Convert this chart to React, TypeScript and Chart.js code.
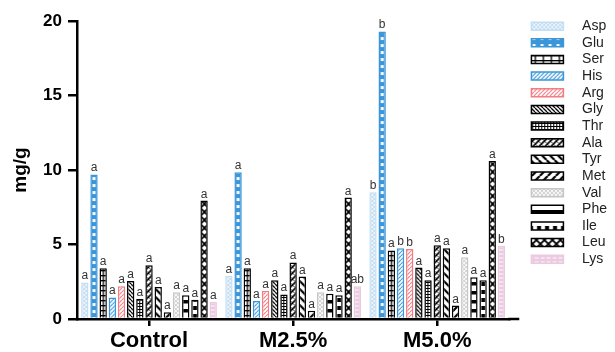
import React, { useEffect, useRef } from "react";
import { Chart, registerables } from "chart.js";

Chart.register(...registerables);

const CATEGORIES = ["Control", "M2.5%", "M5.0%"];
const AMINO_ACIDS = ["Asp", "Glu", "Ser", "His", "Arg", "Gly", "Thr", "Ala", "Tyr", "Met", "Val", "Phe", "Ile", "Leu", "Lys"];

const CONTROL_VALUES = [2.45, 9.7, 3.4, 1.45, 2.2, 2.55, 1.35, 3.6, 2.15, 0.45, 1.8, 1.6, 1.3, 7.95, 1.15];
const M25_VALUES = [2.9, 9.85, 3.4, 1.2, 1.9, 2.6, 1.65, 3.8, 2.85, 0.55, 1.8, 1.7, 1.6, 8.15, 2.2];
const M50_VALUES = [8.5, 19.3, 4.6, 4.75, 4.7, 3.45, 2.6, 4.95, 4.75, 0.9, 4.15, 2.8, 2.6, 10.6, 4.9];

const CONTROL_LETTERS = ["a", "a", "a", "a", "a", "a", "a", "a", "a", "a", "a", "a", "a", "a", "a"];
const M25_LETTERS = ["a", "a", "a", "a", "a", "a", "a", "a", "a", "a", "a", "a", "a", "a", "ab"];
const M50_LETTERS = ["b", "b", "a", "b", "b", "a", "a", "a", "a", "a", "a", "a", "a", "a", "b"];

const Y_MIN = 0;
const Y_MAX = 20;
const Y_STEP = 5;

const FONT = "Arial, 'Liberation Sans', Helvetica, sans-serif";
const CAT_PCT = 0.955;
const BAR_PCT = 0.8;

type Painter = (g: CanvasRenderingContext2D, w: number, h: number) => void;

function makeTile(w: number, h: number, bg: string, draw: Painter) {
  const c = document.createElement("canvas");
  c.width = w;
  c.height = h;
  const g = c.getContext("2d")!;
  g.fillStyle = bg;
  g.fillRect(0, 0, w, h);
  draw(g, w, h);
  return c;
}

function slash(g: CanvasRenderingContext2D, s: number, color: string, lw: number) {
  g.strokeStyle = color;
  g.lineWidth = lw;
  g.beginPath();
  for (const x0 of [-s, 0, s]) {
    g.moveTo(x0, s);
    g.lineTo(x0 + s, 0);
  }
  g.stroke();
}

function backslash(g: CanvasRenderingContext2D, s: number, color: string, lw: number) {
  g.strokeStyle = color;
  g.lineWidth = lw;
  g.beginPath();
  for (const x0 of [-s, 0, s]) {
    g.moveTo(x0, 0);
    g.lineTo(x0 + s, s);
  }
  g.stroke();
}

const BLUE = "#3a96d8";
const LIGHT_BLUE = "#c4def3";
const SALMON = "#f27d84";
const PINK = "#ebc9e0";
const GREY = "#c6c6c6";

function buildTiles() {
  const asp = makeTile(4, 4, LIGHT_BLUE, (g) => {
    g.fillStyle = "rgba(255,255,255,0.65)";
    g.fillRect(0, 0, 2, 2);
    g.fillRect(2, 2, 2, 2);
  });
  const glu = makeTile(8, 7, BLUE, (g) => {
    g.fillStyle = "#fff";
    g.fillRect(2.2, 2, 3, 3);
  });
  const ser = makeTile(8, 5, "#fff", (g) => {
    g.fillStyle = "#000";
    g.fillRect(0, 0, 8, 1.3);
    g.fillRect(3.1, 0, 1.3, 5);
  });
  const his = makeTile(4, 4, "#fff", (g, w) => slash(g, w, BLUE, 1.2));
  const arg = makeTile(4, 4, "#fff", (g, w) => slash(g, w, SALMON, 1.2));
  const gly = makeTile(4, 4, "#fff", (g, w) => backslash(g, w, "#000", 1.3));
  const thr = makeTile(3, 3, "#fff", (g) => {
    g.fillStyle = "#000";
    g.fillRect(0, 0, 3, 1);
    g.fillRect(0, 0, 1, 3);
  });
  const ala = makeTile(6, 6, "#fff", (g, w) => {
    slash(g, w, "#000", 1.6);
    backslash(g, w, "#000", 0.8);
  });
  const tyr = makeTile(8, 8, "#fff", (g, w) => backslash(g, w, "#000", 2.2));
  const met = makeTile(8, 8, "#fff", (g, w) => slash(g, w, "#000", 2.2));
  const val = makeTile(4, 4, "#d4d4d4", (g) => {
    g.fillStyle = "rgba(255,255,255,0.8)";
    g.fillRect(0, 0, 2, 2);
    g.fillRect(2, 2, 2, 2);
  });
  const phe = makeTile(8, 9, "#fff", (g) => {
    g.fillStyle = "#000";
    g.fillRect(0, 3, 8, 3.5);
  });
  const ile = makeTile(8, 8, "#fff", (g) => {
    g.fillStyle = "#000";
    g.fillRect(1.8, 2, 4, 4);
  });
  const leu = makeTile(8, 8, "#fff", (g, w) => {
    slash(g, w, "#000", 1.8);
    backslash(g, w, "#000", 1.8);
  });
  const lys = makeTile(6, 4, PINK, (g) => {
    g.fillStyle = "#fff";
    g.fillRect(1, 1.5, 4, 1);
  });
  return [asp, glu, ser, his, arg, gly, thr, ala, tyr, met, val, phe, ile, leu, lys];
}

const BORDERS = [LIGHT_BLUE, BLUE, "#000", BLUE, SALMON, "#000", "#000", "#000", "#000", "#000", GREY, "#000", "#000", "#000", PINK];

const lettersPlugin = {
  id: "sigLetters",
  afterDatasetsDraw(chart: any) {
    const ctx = chart.ctx;
    const groups = [CONTROL_LETTERS, M25_LETTERS, M50_LETTERS];
    ctx.save();
    ctx.font = `12px ${FONT}`;
    ctx.fillStyle = "#333";
    ctx.textAlign = "center";
    ctx.textBaseline = "alphabetic";
    chart.data.datasets.forEach((_: any, i: number) => {
      const meta = chart.getDatasetMeta(i);
      meta.data.forEach((bar: any, j: number) => {
        ctx.fillText(groups[j][i], bar.x, bar.y - 3);
      });
    });
    ctx.restore();
  },
};

const axisExtendPlugin = {
  id: "axisExtend",
  afterDraw(chart: any) {
    const { ctx, chartArea } = chart;
    ctx.save();
    ctx.strokeStyle = "#000";
    ctx.lineWidth = 2.5;
    ctx.beginPath();
    ctx.moveTo(chartArea.right - 1, chartArea.bottom);
    ctx.lineTo(chartArea.right + 10, chartArea.bottom);
    ctx.stroke();
    ctx.restore();
  },
};

export default function App() {
  const ref = useRef<HTMLCanvasElement>(null);

  useEffect(() => {
    const canvas = ref.current!;
    const ctx = canvas.getContext("2d")!;
    const tiles = buildTiles();
    const basePatterns = tiles.map((t) => ctx.createPattern(t, "repeat")!);
    const n = AMINO_ACIDS.length;

    const datasets = AMINO_ACIDS.map((name, i) => ({
      label: name,
      data: [CONTROL_VALUES[i], M25_VALUES[i], M50_VALUES[i]],
      backgroundColor: (c: any) => {
        if (c.type !== "data" || !c.chart.scales || !c.chart.scales.x) return basePatterns[i];
        const xs = c.chart.scales.x;
        const center = xs.getPixelForValue(c.dataIndex);
        const catW = xs.width / CATEGORIES.length;
        const group = catW * CAT_PCT;
        const slot = group / n;
        const barW = slot * BAR_PCT;
        const left = center - group / 2 + slot * (i + 0.5) - barW / 2;
        const p = ctx.createPattern(tiles[i], "repeat")!;
        p.setTransform(new DOMMatrix([1, 0, 0, 1, left, 0]));
        return p;
      },
      borderColor: BORDERS[i],
      borderWidth: 1.5,
      categoryPercentage: CAT_PCT,
      barPercentage: BAR_PCT,
    }));

    const chart = new Chart(ctx, {
      type: "bar",
      data: { labels: CATEGORIES, datasets },
      plugins: [lettersPlugin, axisExtendPlugin],
      options: {
        animation: false,
        responsive: true,
        maintainAspectRatio: false,
        layout: { padding: { top: 16.5, right: -2, bottom: 0, left: 0 } },
        plugins: {
          tooltip: { enabled: false },
          legend: {
            position: "right",
            align: "start",
            labels: {
              boxWidth: 32,
              boxHeight: 8,
              padding: 2.65,
              color: "#222",
              font: { family: FONT, size: 14 },
              generateLabels: (c: any) => {
                const items = Chart.defaults.plugins.legend.labels.generateLabels(c);
                return items.map((it: any) => ({ ...it, text: "   " + it.text }));
              },
            },
          },
        },
        scales: {
          x: {
            type: "category",
            offset: true,
            grid: {
              display: true,
              offset: false,
              drawOnChartArea: false,
              drawTicks: true,
              tickLength: 7,
              color: "#000",
              lineWidth: 2.5,
            },
            border: { display: true, color: "#000", width: 2.5 },
            ticks: {
              color: "#000",
              padding: 2,
              font: { family: FONT, size: 22, weight: "bold" },
            },
            afterFit: (s: any) => {
              s.height = 33;
            },
          },
          y: {
            type: "linear",
            min: Y_MIN,
            max: Y_MAX,
            grid: {
              display: true,
              drawOnChartArea: false,
              drawTicks: true,
              tickLength: 9,
              color: "#000",
              lineWidth: 2.5,
            },
            border: { display: true, color: "#000", width: 2.5 },
            ticks: {
              stepSize: Y_STEP,
              color: "#000",
              padding: 6,
              font: { family: FONT, size: 17, weight: "bold" },
            },
            title: {
              display: true,
              text: "mg/g",
              color: "#000",
              padding: { top: 9, bottom: 0 },
              font: { family: FONT, size: 19, weight: "bold" },
            },
            afterFit: (s: any) => {
              s.width = 77;
              s.paddingTop = 21;
            },
          },
          y2: {
            type: "linear",
            position: "right",
            display: true,
            grid: { display: false },
            border: { display: false },
            ticks: { display: false },
            afterFit: (s: any) => {
              s.width = 19.5;
            },
          },
        },
      },
    });
    return () => chart.destroy();
  }, []);

  return (
    <div style={{ position: "fixed", left: 0, top: 0, width: 615, height: 352, background: "#fff" }}>
      <canvas ref={ref} />
    </div>
  );
}
